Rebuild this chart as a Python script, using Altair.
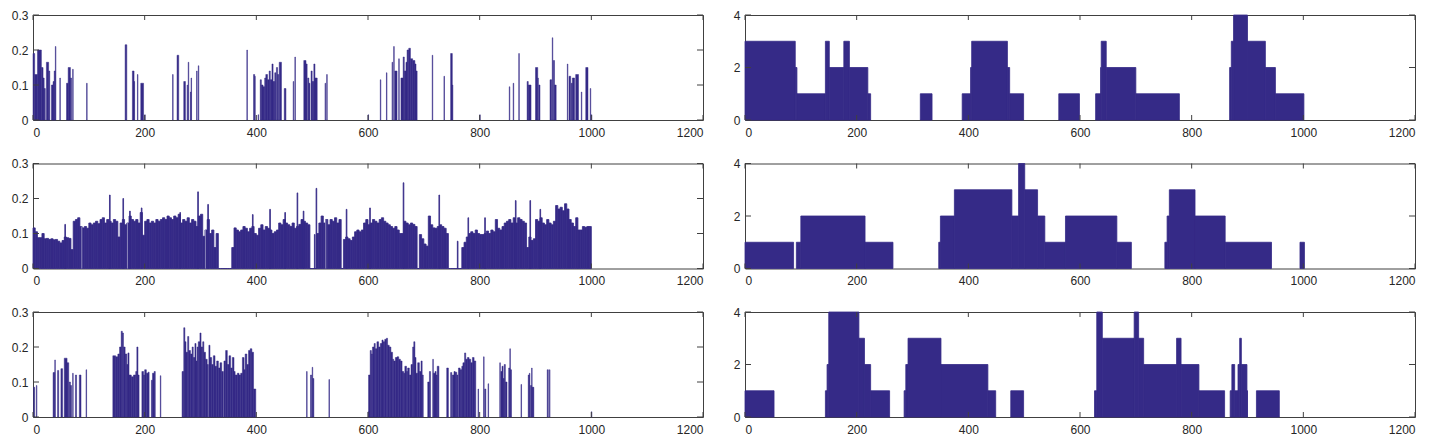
import altair as alt
import pandas as pd

# ---------------- tick labels ----------------
X_TICKS = [0, 200, 400, 600, 800, 1000, 1200]
LEFT_Y_TICKS = [0, 0.1, 0.2, 0.3]
RIGHT_Y_TICKS = [0, 2, 4]

# ---------------- left column: top panel (start, width, value) ----------------
tl_start = [0, 3, 8, 15, 18, 20, 24, 28, 33, 36, 38, 40, 48, 60, 63, 67, 71, 96,
            165, 178, 181, 187, 193, 200, 250, 258, 270, 276, 278, 282, 283, 293, 296,
            383, 395, 397, 403, 407, 409, 412, 415, 417, 420, 423, 425, 428, 430, 433,
            436, 438, 441, 450, 466, 469, 485, 489, 492, 494, 498, 500, 503, 505, 523,
            526, 600, 622, 633, 643, 646, 648, 655, 659, 663, 665, 668, 670, 673, 676,
            680, 684, 686, 715, 736, 748, 751, 800, 853, 860, 870, 885, 887, 900, 904,
            906, 926, 930, 932, 934, 957, 960, 964, 966, 972, 982, 990, 998, 1000]
tl_width = [3, 5, 7, 3, 2, 2, 4, 2, 3, 2, 2, 1, 1, 3, 4, 2, 1, 1,
            3, 3, 1, 1, 5, 1, 1, 3, 3, 1, 1, 1, 1, 1, 1,
            1, 2, 1, 1, 2, 3, 3, 2, 3, 3, 2, 3, 2, 3, 2,
            2, 2, 4, 3, 1, 1, 4, 2, 2, 2, 2, 3, 2, 4, 1,
            1, 1, 1, 1, 1, 1, 4, 1, 4, 2, 3, 2, 3, 3, 4,
            4, 2, 2, 1, 1, 3, 1, 1, 1, 1, 1, 2, 5, 4, 1,
            2, 3, 1, 2, 3, 1, 3, 2, 4, 5, 1, 4, 1, 1]
tl_value = [0.19, 0.13, 0.2, 0.15, 0.12, 0.09, 0.165, 0.14, 0.1, 0.11, 0.14, 0.21, 0.12, 0.105, 0.15, 0.12, 0.145, 0.105,
            0.215, 0.14, 0.11, 0.13, 0.105, 0.015, 0.13, 0.185, 0.11, 0.1, 0.165, 0.08, 0.12, 0.14, 0.155,
            0.2, 0.13, 0.125, 0.015, 0.115, 0.1, 0.095, 0.12, 0.13, 0.115, 0.14, 0.115, 0.16, 0.11, 0.135,
            0.15, 0.13, 0.165, 0.09, 0.11, 0.18, 0.17, 0.16, 0.12, 0.105, 0.14, 0.11, 0.16, 0.12, 0.105,
            0.13, 0.015, 0.115, 0.135, 0.165, 0.21, 0.14, 0.175, 0.12, 0.18, 0.14, 0.165, 0.2, 0.205, 0.175,
            0.17, 0.16, 0.14, 0.185, 0.125, 0.19, 0.1, 0.015, 0.095, 0.105, 0.19, 0.11, 0.1, 0.15, 0.12,
            0.1, 0.115, 0.235, 0.17, 0.1, 0.16, 0.125, 0.105, 0.12, 0.13, 0.08, 0.15, 0.09, 0.015]

# ---------------- left column: middle panel (bins of 4 samples) ----------------
mid_bin = 4
mid_vals = [
    0.116, 0.105, 0.088, 0.088, 0.1, 0.085, 0.086, 0.083, 0.085, 0.082,
    0.083, 0.078, 0.073, 0.08, 0.09, 0.088, 0.086, 0.054, 0.135, 0.14,
    0.145, 0.12, 0.116, 0.12, 0.115, 0.13, 0.125, 0.13, 0.135, 0.128,
    0.14, 0.145, 0.13, 0.14, 0.135, 0.13, 0.14, 0.135, 0.09, 0.13,
    0.14, 0.125, 0.13, 0.15, 0.14, 0.135, 0.14, 0.13, 0.16, 0.095,
    0.135, 0.14, 0.13, 0.135, 0.13, 0.14, 0.135, 0.14, 0.145, 0.14,
    0.15, 0.145, 0.14, 0.15, 0.145, 0.155, 0.13, 0.14, 0.135, 0.145,
    0.13, 0.14, 0.135, 0.12, 0.15, 0.155, 0.092, 0.11, 0.14, 0.1,
    0.11, 0.06, 0.1, 0, 0, 0, 0, 0, 0, 0.06,
    0.116, 0.11, 0.105, 0.11, 0.12, 0.115, 0.105, 0.115, 0.12, 0.1,
    0.095, 0.115, 0.125, 0.11, 0.12, 0.115, 0.11, 0.1, 0.105, 0.11,
    0.13, 0.125, 0.14, 0.13, 0.125, 0.12, 0.13, 0.115, 0.12, 0.126,
    0.14, 0.135, 0.13, 0.125, 0, 0, 0, 0.1, 0.13, 0.15,
    0.13, 0.14, 0.125, 0.14, 0.135, 0.145, 0.13, 0.14, 0, 0.083,
    0.09, 0.085, 0.08, 0.09, 0.105, 0.11, 0.105, 0.11, 0.13, 0.14,
    0.125, 0.13, 0.14, 0.135, 0.13, 0.14, 0.145, 0.135, 0.13, 0.125,
    0.12, 0.115, 0.12, 0.11, 0.1, 0.1, 0.135, 0.13, 0.125, 0.13,
    0.126, 0.12, 0, 0.097, 0.085, 0.07, 0.064, 0.15, 0.125, 0.116,
    0.115, 0.12, 0.125, 0.12, 0.115, 0.1, 0, 0, 0, 0,
    0, 0, 0.06, 0.075, 0.09, 0.1, 0.105, 0.1, 0.11, 0.1,
    0.097, 0.097, 0.1, 0.107, 0.1, 0.11, 0.105, 0.14, 0.115, 0.11,
    0.12, 0.13, 0.135, 0.14, 0.13, 0.145, 0.13, 0.145, 0.14, 0.135,
    0.13, 0.06, 0.09, 0.08, 0.085, 0.14, 0.135, 0.145, 0.13, 0.125,
    0.14, 0.13, 0.125, 0.135, 0.18, 0.17, 0.175, 0.165, 0.185, 0.17,
    0.14, 0.13, 0.12, 0.145, 0.11, 0.11, 0.12, 0.118, 0.12, 0.12,
]
mid_spike_x = [57, 137, 161, 173, 194, 263, 295, 313, 393, 424, 451, 473, 484, 504, 507,
               561, 603, 663, 727, 760, 779, 809, 864, 890, 908]
mid_spike_v = [0.126, 0.21, 0.2, 0.164, 0.173, 0.16, 0.219, 0.183, 0.154, 0.169, 0.16, 0.216, 0.164, 0.097, 0.229,
               0.169, 0.173, 0.245, 0.21, 0.078, 0.145, 0.145, 0.194, 0.194, 0.169]
mid_gap_x = [87, 169, 308, 524]

# ---------------- left column: bottom panel (start, width, value) ----------------
bl_start = [1, 6, 36, 39, 44, 50, 56, 61, 65, 67, 71, 76, 83, 95, 143, 148, 152, 155, 158, 160,
            162, 165, 168, 170, 172, 176, 180, 184, 186, 188, 195, 198, 200, 203, 206, 212, 214, 217,
            228, 267, 270, 272, 274, 277, 279, 282, 285, 287, 290, 292, 294, 296, 299, 301, 304, 306,
            309, 312, 315, 317, 320, 323, 326, 329, 332, 335, 338, 342, 345, 348, 351, 354, 357, 360,
            362, 366, 369, 372, 375, 378, 380, 383, 386, 389, 392, 395, 490, 497, 500, 501, 530, 600,
            601, 604, 606, 608, 611, 613, 616, 619, 622, 625, 627, 630, 633, 635, 638, 641, 644, 646,
            649, 652, 655, 658, 661, 664, 666, 669, 671, 674, 677, 680, 682, 684, 686, 689, 692, 695,
            697, 707, 710, 716, 717, 720, 722, 724, 741, 748, 751, 754, 756, 759, 762, 765, 768, 770,
            773, 775, 778, 781, 784, 787, 790, 797, 807, 809, 815, 836, 838, 840, 842, 844, 846, 852,
            854, 855, 874, 887, 889, 891, 893, 894, 896, 921, 925, 1000]
bl_width = [2, 1, 3, 1, 2, 3, 5, 3, 2, 2, 1, 2, 3, 1, 5, 4, 3, 3, 2, 2,
            3, 3, 2, 2, 4, 4, 4, 2, 2, 2, 3, 2, 3, 3, 2, 2, 3, 2,
            1, 3, 2, 2, 3, 2, 3, 3, 2, 3, 2, 2, 2, 3, 2, 3, 2, 3,
            3, 2, 2, 3, 3, 3, 3, 3, 3, 3, 3, 3, 3, 3, 3, 3, 3, 2,
            4, 3, 3, 3, 3, 2, 3, 3, 3, 3, 3, 4, 1, 2, 1, 2, 1, 1,
            3, 2, 2, 3, 2, 3, 3, 3, 3, 2, 3, 3, 2, 3, 3, 3, 2, 3,
            3, 3, 3, 3, 3, 2, 3, 2, 3, 3, 3, 2, 2, 2, 3, 3, 3, 2,
            2, 3, 2, 1, 3, 2, 2, 3, 3, 2, 3, 2, 3, 2, 3, 3, 2, 3,
            2, 3, 3, 3, 3, 3, 3, 1, 1, 2, 1, 1, 2, 2, 2, 2, 3, 2,
            1, 2, 1, 2, 1, 2, 1, 2, 1, 2, 1, 1]
bl_value = [0.085, 0.09, 0.127, 0.163, 0.133, 0.138, 0.168, 0.155, 0.1, 0.09, 0.125, 0.12, 0.12, 0.135, 0.175, 0.172, 0.18, 0.2, 0.245, 0.24,
            0.2, 0.18, 0.15, 0.183, 0.12, 0.115, 0.12, 0.13, 0.2, 0.12, 0.13, 0.12, 0.135, 0.125, 0.128, 0.105, 0.125, 0.13,
            0.118, 0.13, 0.255, 0.215, 0.185, 0.23, 0.19, 0.18, 0.2, 0.17, 0.21, 0.16, 0.2, 0.215, 0.24, 0.2, 0.215, 0.185,
            0.165, 0.15, 0.205, 0.17, 0.15, 0.175, 0.145, 0.16, 0.14, 0.155, 0.13, 0.16, 0.19, 0.15, 0.175, 0.14, 0.17, 0.13,
            0.12, 0.125, 0.12, 0.125, 0.17, 0.135, 0.18, 0.15, 0.19, 0.195, 0.185, 0.08, 0.13, 0.12, 0.142, 0.11, 0.107, 0.015,
            0.12, 0.19, 0.18, 0.2, 0.21, 0.195, 0.215, 0.2, 0.21, 0.22, 0.215, 0.222, 0.225, 0.205, 0.2, 0.185, 0.165, 0.16,
            0.17, 0.172, 0.165, 0.16, 0.13, 0.125, 0.145, 0.13, 0.14, 0.12, 0.15, 0.2, 0.215, 0.17, 0.125, 0.155, 0.13, 0.16,
            0.12, 0.1, 0.13, 0.165, 0.125, 0.13, 0.12, 0.145, 0.14, 0.127, 0.12, 0.13, 0.128, 0.12, 0.14, 0.135, 0.145, 0.155,
            0.183, 0.165, 0.17, 0.165, 0.155, 0.17, 0.16, 0.08, 0.172, 0.08, 0.095, 0.155, 0.13, 0.145, 0.11, 0.15, 0.1, 0.14,
            0.195, 0.135, 0.093, 0.12, 0.125, 0.09, 0.14, 0.085, 0.085, 0.135, 0.135, 0.015]

# ---------------- right column: step segments (start, end, level) ----------------
tr_start = [0, 90, 93, 144, 151, 177, 187, 220, 314, 389, 404, 406, 470, 474, 562, 628, 637, 638, 647, 700,
            868, 871, 875, 900, 932, 950]
tr_end = [90, 93, 144, 151, 177, 187, 220, 225, 335, 404, 406, 470, 474, 499, 599, 637, 638, 647, 700, 778,
          871, 875, 900, 932, 950, 1001]
tr_level = [3, 2, 1, 3, 2, 3, 2, 1, 1, 1, 2, 3, 2, 1, 1, 1, 2, 3, 2, 1,
            2, 3, 4, 3, 2, 1]

mr_start = [0, 92, 100, 215, 347, 350, 375, 478, 490, 501, 524, 537, 574, 666, 752, 756, 760, 806, 860, 994]
mr_end = [87, 100, 215, 265, 350, 375, 478, 490, 501, 524, 537, 574, 666, 692, 756, 760, 806, 860, 943, 1002]
mr_level = [1, 1, 2, 1, 1, 2, 3, 2, 4, 3, 2, 1, 2, 1, 1, 2, 3, 2, 1, 1]

br_start = [0, 144, 147, 150, 204, 214, 225, 285, 288, 292, 351, 435, 476, 626, 630, 640, 697, 705, 714, 773,
            781, 813, 869, 872, 877, 883, 886, 889, 899, 916]
br_end = [52, 147, 150, 204, 214, 225, 259, 288, 292, 351, 435, 449, 499, 630, 640, 697, 705, 714, 773, 781,
          813, 859, 872, 877, 883, 886, 889, 899, 900, 957]
br_level = [1, 1, 2, 4, 3, 2, 1, 1, 2, 3, 2, 1, 1, 1, 4, 3, 4, 3, 2, 3,
            2, 1, 1, 2, 1, 2, 3, 2, 1, 1]

# ---------------- styling ----------------
BAR = "#352a87"
FRAME = "#404040"
LABEL = "#262626"
FONT = "Liberation Sans"
W, H = 670, 105
XT_LEN, YT_LEN = 5, 6


def seg_df(start, end, value):
    return pd.DataFrame({"x": start, "x2": end, "v": value})


def width_df(start, width, value):
    return seg_df(start, [s + w for s, w in zip(start, width)], value)


def panel(df, ymax, yticks, yfmt, extra=None, sw=0.5):
    xs = alt.Scale(domain=[0, 1200], nice=False, zero=False)
    ys = alt.Scale(domain=[0, ymax], nice=False)
    xaxis = alt.Axis(values=X_TICKS, format="d", ticks=False, tickSize=0, domain=False,
                     grid=False, labelPadding=7, labelOverlap=False, tickCount=20, title=None)
    yaxis = alt.Axis(values=yticks, format=yfmt, ticks=False, tickSize=0, domain=False,
                     grid=False, labelPadding=5, labelOverlap=False, tickCount=10, title=None)
    bars = alt.Chart(df).mark_rect(color=BAR, stroke=BAR, strokeWidth=sw).encode(
        x=alt.X("x:Q", scale=xs, axis=xaxis),
        x2="x2:Q",
        y=alt.Y("v:Q", scale=ys, axis=yaxis),
        y2=alt.datum(0),
    )
    layers = [bars]
    if extra is not None:
        for d, color, op in extra:
            layers.append(
                alt.Chart(d).mark_rect(color=color, opacity=op).encode(
                    x=alt.X("x:Q", scale=xs),
                    x2="x2:Q",
                    y=alt.Y("v:Q", scale=ys),
                    y2=alt.datum(0),
                )
            )
    xt = pd.DataFrame({"x": X_TICKS})
    yt = pd.DataFrame({"v": yticks})
    rule = dict(color=FRAME, strokeWidth=1)
    layers.append(alt.Chart(xt).mark_rule(**rule).encode(
        x=alt.X("x:Q", scale=xs), y=alt.value(H), y2=alt.value(H - XT_LEN)))
    layers.append(alt.Chart(xt).mark_rule(**rule).encode(
        x=alt.X("x:Q", scale=xs), y=alt.value(0), y2=alt.value(XT_LEN)))
    layers.append(alt.Chart(yt).mark_rule(**rule).encode(
        y=alt.Y("v:Q", scale=ys), x=alt.value(0), x2=alt.value(YT_LEN)))
    layers.append(alt.Chart(yt).mark_rule(**rule).encode(
        y=alt.Y("v:Q", scale=ys), x=alt.value(W - YT_LEN), x2=alt.value(W)))
    return alt.layer(*layers).properties(width=W, height=H)


# middle-left data
mid_df = pd.DataFrame({
    "x": [i * mid_bin for i in range(len(mid_vals))],
    "x2": [(i + 1) * mid_bin for i in range(len(mid_vals))],
    "v": mid_vals,
})
spike_df = pd.concat([mid_df, seg_df(mid_spike_x, [x + 1.2 for x in mid_spike_x], mid_spike_v)],
                     ignore_index=True)
gap_df = seg_df(mid_gap_x, [x + 1 for x in mid_gap_x],
                [mid_vals[x // mid_bin] for x in mid_gap_x])

tl = panel(width_df(tl_start, tl_width, tl_value), 0.3, LEFT_Y_TICKS, ".1~f")
ml = panel(spike_df, 0.3, LEFT_Y_TICKS, ".1~f", extra=[(gap_df, "#ffffff", 0.75)], sw=0.8)
bl = panel(width_df(bl_start, bl_width, bl_value), 0.3, LEFT_Y_TICKS, ".1~f")
tr = panel(seg_df(tr_start, tr_end, tr_level), 4, RIGHT_Y_TICKS, "d", sw=0.8)
mr = panel(seg_df(mr_start, mr_end, mr_level), 4, RIGHT_Y_TICKS, "d", sw=0.8)
br = panel(seg_df(br_start, br_end, br_level), 4, RIGHT_Y_TICKS, "d", sw=0.8)

HSP = 28
rows = [alt.hconcat(a, b, spacing=HSP) for a, b in [(tl, tr), (ml, mr), (bl, br)]]
chart = alt.vconcat(*rows, spacing=17.5).properties(
    padding={"left": 2, "top": 0, "right": 0, "bottom": 0}
).configure_axis(
    labelFont=FONT, labelFontSize=12, labelColor=LABEL
).configure_view(
    stroke=FRAME, strokeWidth=1
)

chart.save("out.html", embed_options={"renderer": "svg", "actions": False})
